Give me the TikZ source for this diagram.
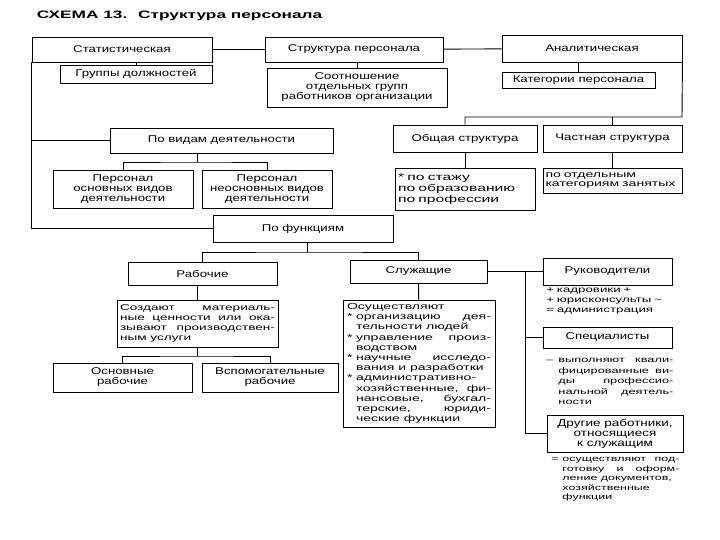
\documentclass[tikz,border=0pt]{standalone}
\usepackage{fontspec}
\setmainfont{Liberation Sans}[FakeStretch=1.35]
\newfontfamily\descfont{Liberation Sans}[FakeStretch=1.6]
\newfontfamily\titlefont{Liberation Sans}[FakeStretch=1.6]
\usetikzlibrary{positioning}

\begin{document}
\begin{tikzpicture}[x=1pt, y=-1pt, line width=0.9pt,
    box/.style={draw, rectangle, align=center, inner sep=1pt, font=\fontsize{9.8}{10}\selectfont},
    descbox/.style={draw, rectangle, align=justify, inner ysep=1pt},
    desc/.style={align=justify, inner sep=0pt, anchor=north west}]
    \useasboundingbox (0,0) rectangle (720,540);

    \node[anchor=west, font=\titlefont\fontsize{10.8}{12}\selectfont\bfseries] (title) at (33,16) {СХЕМА 13.\quad Структура персонала};

    % top row
    \node[box, minimum width=180, minimum height=25] (stat) at (122,49.5) {Статистическая};
    \node[box, minimum width=178, minimum height=25] (struct) at (354,49.5) {Структура персонала};
    \node[box, minimum width=180, minimum height=27] (anal) at (592,48.5) {Аналитическая};
    \node[box, minimum width=152, minimum height=18] (grp) at (136,74) {Группы должностей};
    \node[box, minimum width=180, minimum height=39] (sootn) at (357,87.5) {Соотношение\\отдельных групп\\работников организации};
    \node[box, minimum width=153, minimum height=16] (kat) at (578.5,80) {Категории персонала};

    % second row
    \node[box, minimum width=223, minimum height=25] (vid) at (221.5,140.5) {По видам деятельности};
    \node[box, minimum width=140, minimum height=38] (osnv) at (123,189) {Персонал\\основных видов\\деятельности};
    \node[box, minimum width=130, minimum height=38] (neosn) at (267,189) {Персонал\\неосновных видов\\деятельности};
    \node[box, minimum width=144, minimum height=27] (obsh) at (465,138.5) {Общая структура};
    \node[box, minimum width=139, minimum height=27] (chast) at (612.5,138.5) {Частная структура};
    \node[descbox, align=left, text width=134, minimum height=42, inner xsep=3, font=\descfont\fontsize{9.8}{11}\selectfont] (obshl) at (465,189) {* по стажу\\* по образованию\\* по профессии};
    \node[descbox, align=left, text width=134, minimum height=25, inner xsep=2.5, font=\descfont\fontsize{8.8}{9}\selectfont] (chastl) at (612.5,180.5) {по отдельным\\категориям занятых};

    % functions
    \node[box, minimum width=180, minimum height=27] (func) at (303,228.5) {По функциям};
    \node[box, minimum width=149, minimum height=23] (rab) at (202.5,273.5) {Рабочие};
    \node[descbox, text width=155, minimum height=47, inner xsep=3, font=\descfont\fontsize{8.5}{10}\selectfont] (rabd) at (197.5,323.5) {Создают материаль-\linebreak ные ценности или ока-\linebreak зывают производствен-\linebreak ным услуги};
    \node[box, minimum width=139, minimum height=29] (osnr) at (122.5,377.5) {Основные\\рабочие};
    \node[box, minimum width=136, minimum height=29] (vspr) at (270,377.5) {Вспомогательные\\рабочие};
    \node[box, minimum width=137, minimum height=23] (sluzh) at (418.5,271.5) {Служащие};
    \node[descbox, text width=144, minimum height=127, inner xsep=4, font=\descfont\fontsize{8.8}{10.2}\selectfont] (sluzhd) at (419,363.5) {Осуществляют\par
        \hangindent=9pt\hangafter=1 \makebox[9pt][l]{*}организацию дея-\linebreak тельности людей\par
        \hangindent=9pt\hangafter=1 \makebox[9pt][l]{*}управление произ-\linebreak водством\par
        \hangindent=9pt\hangafter=1 \makebox[9pt][l]{*}научные исследо-\linebreak вания и разработки\par
        \hangindent=9pt\hangafter=1 \makebox[9pt][l]{*}административно-\linebreak хозяйственные, фи-\linebreak нансовые, бухгал-\linebreak терские, юриди-\linebreak ческие функции\par};

    % right column
    \node[box, minimum width=129, minimum height=27] (ruk) at (607.5,271.5) {Руководители};
    \node[desc, text width=125, align=left, font=\descfont\fontsize{8.3}{10}\selectfont] (rukt) at (546,287) {+ кадровики +\\+ юрисконсульты \textasciitilde\\= администрация};
    \node[box, minimum width=129, minimum height=21] (spec) at (607.5,337.5) {Специалисты};
    \node[desc, text width=127, font=\descfont\fontsize{8}{10.5}\selectfont] (spect) at (546,358) {\hangindent=12pt\hangafter=1 \makebox[12pt][l]{–}выполняют квали-\linebreak фицированные ви-\linebreak ды профессио-\linebreak нальной деятель-\linebreak ности\par};
    \node[box, font=\fontsize{10}{10}\selectfont, minimum width=136, minimum height=37] (drug) at (615,433.5) {Другие работники,\\относящиеся\\к служащим};
    \node[desc, text width=128, font=\descfont\fontsize{7.8}{9.5}\selectfont] (drugt) at (551,457) {\hangindent=11pt\hangafter=1 \makebox[11pt][l]{=}осуществляют под-\linebreak готовку и оформ-\linebreak ление документов,\newline хозяйственные\newline функции\par};

    % connectors
    \draw (stat) -- (struct);
    \draw (struct) -- (anal);
    \draw (grp.north) -- (grp.north |- stat.south);
    \draw (sootn.north) -- (sootn.north |- struct.south);
    \draw (kat.north) -- (kat.north |- anal.south);
    \draw (stat.south west) |- (func.west);
    \draw (stat.south west |- vid.west) -- (vid.west);
    \coordinate (vidj) at (197,162);
    \draw (vidj |- vid.south) -- (vidj);
    \draw (osnv.north) |- (vidj) -| (neosn.north);
    \coordinate (rj) at (682,117);
    \draw (anal.south east) -- (rj) -| (obsh.north);
    \draw (chast.north) -- (chast.north |- rj);
    \draw (obsh) -- (obshl);
    \draw (chast) -- (chastl);
    \coordinate (fj) at (307,252);
    \draw (fj |- func.south) -- (fj);
    \draw (rab.north) |- (fj) -| (sluzh.north);
    \draw (rabd.north) -- (rabd.north |- rab.south);
    \coordinate (rabj) at (197.5,356);
    \draw (rabd.south) -- (rabj);
    \draw (osnr.north) |- (rabj) -| (vspr.north);
    \draw (sluzh) -- (sluzhd);
    \draw (sluzh) -- (ruk);
    \coordinate (sj) at (525,271.5);
    \draw (sj) |- (drug.west);
    \draw (sj |- spec.west) -- (spec.west);
\end{tikzpicture}
\end{document}
